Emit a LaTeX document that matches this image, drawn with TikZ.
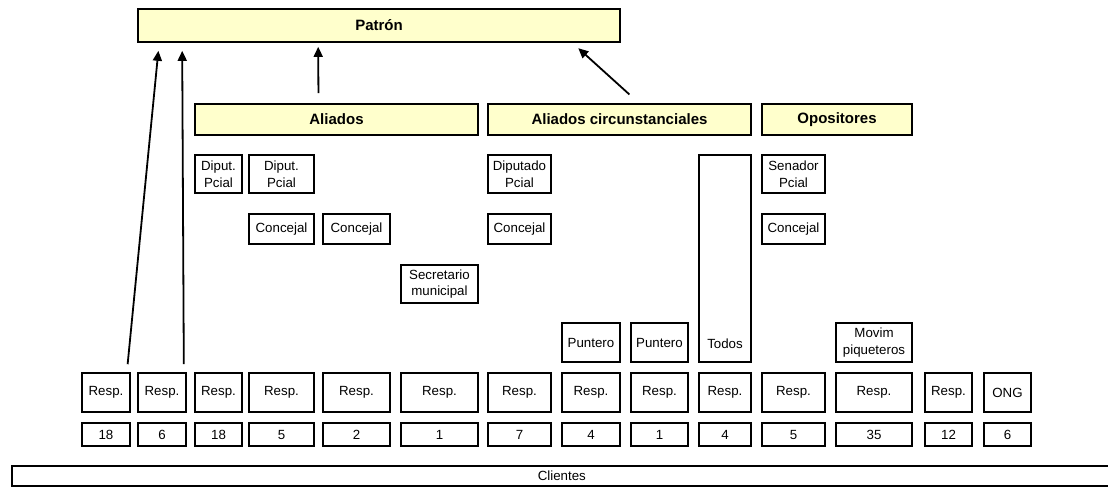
\documentclass[tikz,border=0pt]{standalone}
\usepackage{fontspec}
\setmainfont{Liberation Sans}
\usetikzlibrary{arrows.meta, calc}
\definecolor{headfill}{RGB}{255,255,204}

\begin{document}
\begin{tikzpicture}[x=1pt, y=-1pt,
every node/.style = {shape=rectangle, draw, line width=1.7pt, inner sep=0pt, align=center, font=\fontsize{13.3}{16.5}\selectfont},
head/.style = {fill=headfill, font=\fontsize{15}{18}\selectfont\bfseries},
rowa/.style = {minimum height=38pt}, rowb/.style = {minimum height=30pt},
rowd/.style = {minimum height=39pt}, resp/.style = {minimum height=39pt},
num/.style = {minimum height=23pt},
link/.style = {line width=1.8pt, -{Triangle[length=10pt,width=9pt]}}]

  \useasboundingbox (0,0) rectangle (1108,487);

  \node[head, minimum width=482pt, minimum height=33pt] (patron) at (379,25.5) {Patrón};
  \node[head, minimum width=283pt, minimum height=31pt] (aliados) at (336.5,119.5) {Aliados};
  \node[head, minimum width=263pt, minimum height=31pt] (circ) at (619.5,119.5) {Aliados circunstanciales};
  \node[head, minimum width=150pt, minimum height=31pt] (opos) at (837,119.5) {Opositores};

  \node[rowa, minimum width=47pt] (dip1) at (218.5,174) {Diput.\\Pcial};
  \node[rowa, minimum width=65pt] (dip2) at (281.5,174) {Diput.\\Pcial};
  \node[rowa, minimum width=63pt] (dip3) at (519.5,174) {Diputado\\Pcial};
  \node[rowa, minimum width=63pt] (sen) at (793.5,174) {Senador\\Pcial};
  \node[minimum width=52pt, text height=193pt, text depth=14pt] (todos) at (725,258.5) {Todos};

  \node[rowb, minimum width=65pt] (conc1) at (281.5,229) {Concejal};
  \node[rowb, minimum width=67pt] (conc2) at (356.5,229) {Concejal};
  \node[rowb, minimum width=63pt] (conc3) at (519.5,229) {Concejal};
  \node[rowb, minimum width=63pt] (conc4) at (793.5,229) {Concejal};

  \node[rowa, minimum width=77pt] (secr) at (439.5,284) {Secretario\\municipal};

  \node[rowd, minimum width=58pt] (punt1) at (591,342.5) {Puntero};
  \node[rowd, minimum width=57pt] (punt2) at (659.5,342.5) {Puntero};
  \node[rowd, minimum width=76pt] (movim) at (874,342.5) {Movim\\piqueteros};

  \node[resp, minimum width=48pt] (resp1) at (106,392.5) {Resp.};
  \node[resp, minimum width=48pt] (resp2) at (162,392.5) {Resp.};
  \node[resp, minimum width=47pt] (resp3) at (218.5,392.5) {Resp.};
  \node[resp, minimum width=65pt] (resp4) at (281.5,392.5) {Resp.};
  \node[resp, minimum width=67pt] (resp5) at (356.5,392.5) {Resp.};
  \node[resp, minimum width=77pt] (resp6) at (439.5,392.5) {Resp.};
  \node[resp, minimum width=63pt] (resp7) at (519.5,392.5) {Resp.};
  \node[resp, minimum width=58pt] (resp8) at (591,392.5) {Resp.};
  \node[resp, minimum width=57pt] (resp9) at (659.5,392.5) {Resp.};
  \node[resp, minimum width=52pt] (resp10) at (725,392.5) {Resp.};
  \node[resp, minimum width=63pt] (resp11) at (793.5,392.5) {Resp.};
  \node[resp, minimum width=76pt] (resp12) at (874,392.5) {Resp.};
  \node[resp, minimum width=47pt] (resp13) at (948.5,392.5) {Resp.};
  \node[resp, minimum width=47pt] (ong) at (1007.5,392.5) {ONG};

  \node[num, minimum width=48pt] (n1) at (106,434.5) {18};
  \node[num, minimum width=48pt] (n2) at (162,434.5) {6};
  \node[num, minimum width=47pt] (n3) at (218.5,434.5) {18};
  \node[num, minimum width=65pt] (n4) at (281.5,434.5) {5};
  \node[num, minimum width=67pt] (n5) at (356.5,434.5) {2};
  \node[num, minimum width=77pt] (n6) at (439.5,434.5) {1};
  \node[num, minimum width=63pt] (n7) at (519.5,434.5) {7};
  \node[num, minimum width=58pt] (n8) at (591,434.5) {4};
  \node[num, minimum width=57pt] (n9) at (659.5,434.5) {1};
  \node[num, minimum width=52pt] (n10) at (725,434.5) {4};
  \node[num, minimum width=63pt] (n11) at (793.5,434.5) {5};
  \node[num, minimum width=76pt] (n12) at (874,434.5) {35};
  \node[num, minimum width=47pt] (n13) at (948.5,434.5) {12};
  \node[num, minimum width=47pt] (n14) at (1007.5,434.5) {6};

  \node[anchor=west, minimum height=20pt] (clientes) at (11,476) {\makebox[1100pt]{Clientes}\hspace*{30pt}};

  \draw[link, shorten <=8pt, shorten >=8pt] ($(resp1.north east)+(-4,0)$) -- ($(patron.south west)+(22,0)$);
  \draw[link, shorten <=8pt, shorten >=8pt] ($(resp2.north east)+(-3,0)$) -- ($(patron.south west)+(45,0)$);
  \draw[link, shorten <=10pt, shorten >=4pt] ($(aliados.north)+(-18,0)$) -- ($(patron.south west)+(181,0)$);
  \draw[link, shorten <=13pt, shorten >=8pt] ($(circ.north)+(19.5,0)$) -- ($(patron.south east)+(-48.5,0)$);
\end{tikzpicture}
\end{document}
